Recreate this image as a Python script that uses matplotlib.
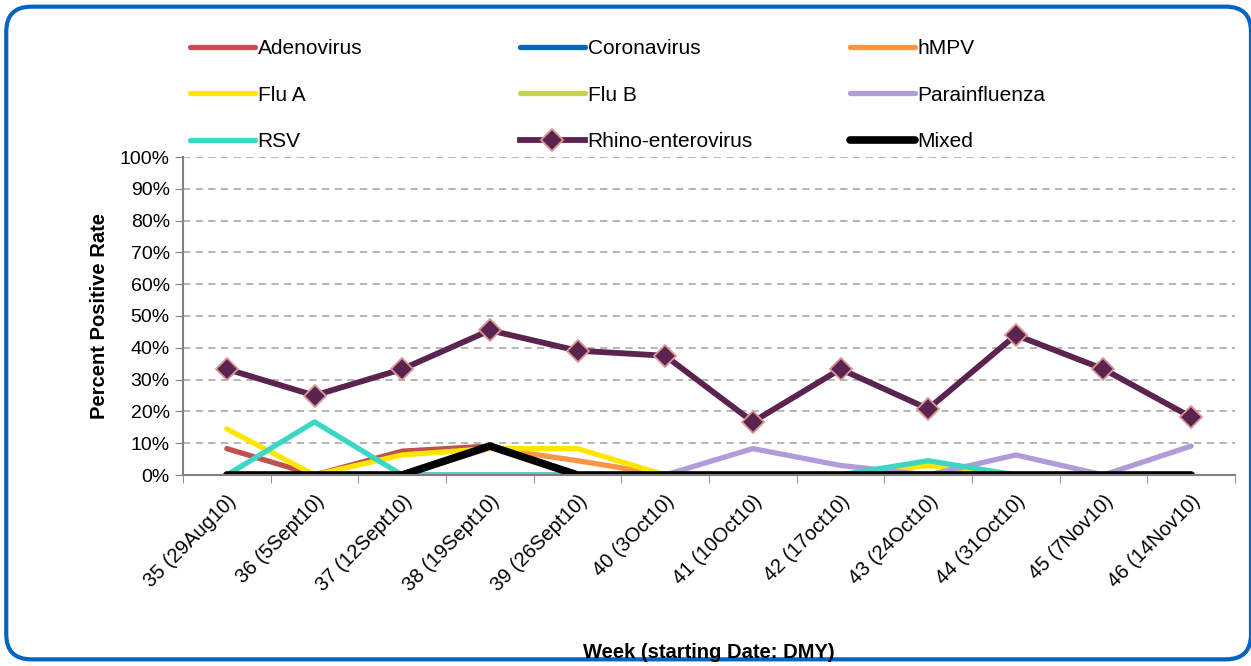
import matplotlib
matplotlib.use('Agg')
import matplotlib.pyplot as plt
from matplotlib.patches import FancyBboxPatch

# Datos
semanas = ['35 (29Aug10)', '36 (5Sept10)', '37 (12Sept10)', '38 (19Sept10)', '39 (26Sept10)',
           '40 (3Oct10)', '41 (10Oct10)', '42 (17oct10)', '43 (24Oct10)', '44 (31Oct10)',
           '45 (7Nov10)', '46 (14Nov10)']
adenovirus = [8.3, 0, 7.5, 9.1, 0, 0, 0, 0, 0, 0, 0, 0]
coronavirus = [0, 0, 0, 0, 0, 0, 0, 0, 0, 0, 0, 0]
hmpv = [0, 0, 0, 8.5, 4.5, 0, 0, 0, 0, 0, 0, 0]
flu_a = [14.5, 0, 6.3, 8.3, 8.3, 0, 0, 0, 3.0, 0, 0, 0]
flu_b = [0, 0, 0, 0, 0, 0, 0, 0, 0, 0, 0, 0]
parainfluenza = [0, 0, 0, 0, 0, 0, 8.3, 3.0, 0, 6.3, 0, 9.1]
rsv = [0, 16.7, 0, 0, 0, 0, 0, 0, 4.5, 0, 0, 0]
rhino = [33.3, 25.0, 33.3, 45.5, 39.1, 37.5, 16.7, 33.3, 20.8, 44.0, 33.3, 18.2]
mixed = [0, 0, 0, 9.1, 0, 0, 0, 0, 0, 0, 0, 0]

plt.rcParams['font.family'] = ['Liberation Sans', 'DejaVu Sans']

fig = plt.figure(figsize=(12.51, 6.66), dpi=100)
ax = fig.add_axes([183/1251, 1-475/666, (1235-183)/1251, (475-157)/666])

x = range(len(semanas))
lw = 3.8
h = []
h += ax.plot(x, adenovirus, color='#C0504D', linewidth=lw, label='Adenovirus', solid_capstyle='round')
h += ax.plot(x, coronavirus, color='#0563C1', linewidth=lw, label='Coronavirus', solid_capstyle='round')
h += ax.plot(x, hmpv, color='#F79646', linewidth=lw, label='hMPV', solid_capstyle='round')
h += ax.plot(x, flu_a, color='#FFE500', linewidth=lw, label='Flu A', solid_capstyle='round')
h += ax.plot(x, flu_b, color='#C8D44B', linewidth=lw, label='Flu B', solid_capstyle='round')
h += ax.plot(x, parainfluenza, color='#B09CDB', linewidth=lw, label='Parainfluenza', solid_capstyle='round')
h += ax.plot(x, rsv, color='#3CD6C4', linewidth=lw, label='RSV', solid_capstyle='round')
h += ax.plot(x, rhino, color='#5B2450', linewidth=4.2, label='Rhino-enterovirus', marker='D',
             markersize=11, markerfacecolor='#5B2450', markeredgecolor='#D99694', markeredgewidth=1.3)
h += ax.plot(x, mixed, color='black', linewidth=5.5, label='Mixed', solid_capstyle='round')

# Ejes
ax.set_xlim(-0.5, len(semanas) - 0.5)
ax.set_ylim(0, 100)
ax.set_yticks(range(0, 101, 10))
ax.set_yticklabels([f'{v}%' for v in range(0, 101, 10)], fontsize=14)
ax.set_xticks(x)
ax.set_xticklabels(semanas, rotation=45, ha='right', rotation_mode='anchor', fontsize=14.5)
ax.set_xticks([i - 0.5 for i in range(len(semanas) + 1)], minor=True)
ax.tick_params(axis='x', which='major', length=0, pad=12)
ax.tick_params(axis='x', which='minor', length=6, color='#808080')
ax.tick_params(axis='y', length=6, color='#808080')
ax.yaxis.grid(True, linestyle=(0, (4, 3)), color='#B0B0B0', linewidth=1.3)
ax.set_axisbelow(True)
for s in ['top', 'right']:
    ax.spines[s].set_visible(False)
ax.spines['left'].set_color('#808080')
ax.spines['bottom'].set_color('#808080')
ax.spines['left'].set_linewidth(1.5)
ax.spines['bottom'].set_linewidth(1.5)

ax.set_ylabel('Percent Positive Rate', fontsize=14.5, fontweight='bold', labelpad=8)
fig.text((183 + 1235) / 2 / 1251, 1 - 652/666, 'Week (starting Date: DMY)', fontsize=14.5,
         fontweight='bold', ha='center', va='center')

# Leyenda: tres columnas, llenadas por filas
for c, xpos in enumerate([190, 520, 850]):
    cols = h[c::3]
    fig.legend(handles=cols, loc='upper left', bbox_to_anchor=(xpos/1251, 1 - 39/666),
               frameon=False, fontsize=15, handlelength=3.1, handletextpad=0.15,
               labelspacing=1.33, borderpad=0, borderaxespad=0)

# Borde redondeado
borde = FancyBboxPatch((0.005, 0.01), 0.995, 0.98, boxstyle='round,pad=0,rounding_size=0.02',
                       transform=fig.transFigure, facecolor='none', edgecolor='#0563C1',
                       linewidth=3, mutation_aspect=1251/666)
fig.patches.append(borde)

fig.savefig('out.png', dpi=100)
